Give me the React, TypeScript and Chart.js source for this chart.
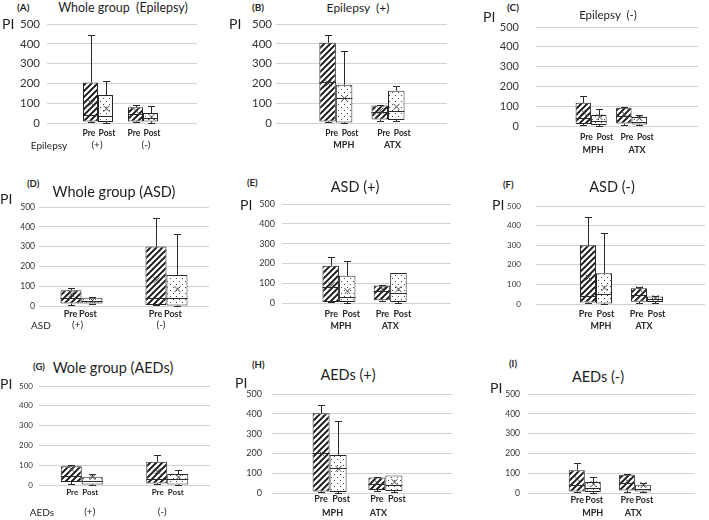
import { useEffect, useRef } from "react";
import { Chart, registerables } from "chart.js";
Chart.register(...registerables);

const FONT = "Lato, 'Liberation Sans', sans-serif";
const seriesNames = ["Pre", "Post"];
const yMin = 0;
const yMax = 500;
const yStep = 100;

// each row: [min, q1, median, q3, max, mean]
const groupsA = ["(+)", "(-)"];
const preA = [[3, 8, 40, 205, 445, 100], [3, 8, 45, 80, 90, 60]];
const postA = [[0, 5, 35, 141, 213, 72], [0, 8, 25, 50, 85, 30]];

const groupsB = ["MPH", "ATX"];
const preB = [[3, 8, 205, 405, 445, 200], [12, 18, 55, 88, 90, 62]];
const postB = [[0, 3, 125, 193, 362, 125], [12, 15, 62, 163, 188, 82]];

const groupsC = ["MPH", "ATX"];
const preC = [[3, 10, 40, 117, 150, 70], [5, 12, 50, 92, 95, 60]];
const postC = [[0, 5, 25, 55, 85, 45], [3, 8, 20, 45, 55, 40]];

const groupsD = ["(+)", "(-)"];
const preD = [[5, 12, 40, 80, 90, 60], [3, 5, 42, 300, 445, 130]];
const postD = [[8, 12, 25, 42, 45, 28], [0, 3, 42, 157, 365, 85]];

const groupsE = ["MPH", "ATX"];
const preE = [[3, 5, 80, 188, 230, 90], [10, 14, 60, 88, 90, 70]];
const postE = [[0, 5, 30, 137, 213, 60], [0, 5, 48, 152, 152, 70]];

const groupsF = ["MPH", "ATX"];
const preF = [[3, 8, 40, 300, 445, 135], [5, 12, 45, 80, 88, 75]];
const postF = [[0, 3, 50, 157, 363, 82], [5, 10, 25, 38, 42, 30]];

const groupsG = ["(+)", "(-)"];
const preG = [[5, 15, 45, 95, 100, 80], [3, 8, 30, 118, 152, 70]];
const postG = [[0, 3, 20, 42, 55, 40], [0, 3, 30, 55, 78, 40]];

const groupsH = ["MPH", "ATX"];
const preH = [[3, 8, 200, 403, 445, 200], [10, 15, 45, 78, 80, 50]];
const postH = [[0, 5, 125, 192, 363, 122], [5, 10, 40, 88, 88, 55]];

const groupsI = ["MPH", "ATX"];
const preI = [[3, 8, 40, 115, 150, 70], [5, 13, 50, 92, 97, 60]];
const postI = [[0, 5, 25, 55, 80, 45], [3, 8, 20, 42, 50, 40]];

const panelLetters = ["(A)", "(B)", "(C)", "(D)", "(E)", "(F)", "(G)", "(H)", "(I)"];
const panelTitles = [
  "Whole group  (Epilepsy)",
  "Epilepsy  (+)",
  "Epilepsy  (-)",
  "Whole group (ASD)",
  "ASD (+)",
  "ASD (-)",
  "Wole group (AEDs)",
  "AEDs (+)",
  "AEDs (-)",
];
const rowLabels = ["Epilepsy", "ASD", "AEDs"];

const groupsList = [groupsA, groupsB, groupsC, groupsD, groupsE, groupsF, groupsG, groupsH, groupsI];
const preList = [preA, preB, preC, preD, preE, preF, preG, preH, preI];
const postList = [postA, postB, postC, postD, postE, postF, postG, postH, postI];

type Lay = {
  L: number; R: number; T: number; B: number;
  f1: number; f2: number; boxW: number;
  yFont: number; yPad: number;
  subY: number; grpY: number; subSize: number; grpSize: number; grpBold: boolean;
  subDx: [number, number]; grpDx: [number, number];
  letter: [number, number, number];
  title: [number, number, number];
  pi: [number, number];
};

const layouts: Lay[] = [
  { L: 47, R: 197, T: 24, B: 123, f1: 0.34, f2: 0.64, boxW: 15, yFont: 11.5, yPad: 7, subY: 10, grpY: 22, subSize: 8.5, grpSize: 10, grpBold: false, subDx: [-1.5, 1.5], grpDx: [-1, 3], letter: [17, 7, 10], title: [123, 8, 12.5], pi: [2, 24] },
  { L: 276, R: 447, T: 24, B: 123, f1: 0.35, f2: 0.655, boxW: 16.5, yFont: 11.5, yPad: 4, subY: 10, grpY: 22, subSize: 8.5, grpSize: 9, grpBold: true, subDx: [4, 6], grpDx: [8, 4.5], letter: [252, 7, 10], title: [358, 8, 12], pi: [229, 24] },
  { L: 536, R: 698, T: 27, B: 126, f1: 0.34, f2: 0.59, boxW: 15.5, yFont: 11, yPad: 17, subY: 11, grpY: 24, subSize: 8.5, grpSize: 9, grpBold: true, subDx: [3, 6], grpDx: [2, 5.5], letter: [507, 7, 10], title: [608, 15, 11.5], pi: [483, 17] },
  { L: 39, R: 209, T: 207, B: 306, f1: 0.25, f2: 0.75, boxW: 21, yFont: 8.5, yPad: 4, subY: 8, grpY: 19, subSize: 9, grpSize: 10, grpBold: false, subDx: [-0.5, -4], grpDx: [-4, -5.5], letter: [27, 184, 9.5], title: [114, 192, 14.5], pi: [0, 199] },
  { L: 282, R: 451, T: 204, B: 303, f1: 0.337, f2: 0.64, boxW: 16.5, yFont: 9, yPad: 7, subY: 11, grpY: 23, subSize: 9, grpSize: 9, grpBold: true, subDx: [0.5, 4], grpDx: [2, 0], letter: [247, 183, 9.5], title: [355, 187, 14.5], pi: [240, 205] },
  { L: 536, R: 705, T: 206, B: 304, f1: 0.355, f2: 0.657, boxW: 16, yFont: 8, yPad: 15, subY: 10, grpY: 22, subSize: 9, grpSize: 9, grpBold: true, subDx: [-2.5, 1.5], grpDx: [5, -3], letter: [503, 185, 9.5], title: [612, 187, 14.5], pi: [492, 205] },
  { L: 39, R: 210, T: 386, B: 485, f1: 0.25, f2: 0.75, boxW: 21, yFont: 8, yPad: 6, subY: 7, grpY: 27, subSize: 8, grpSize: 10, grpBold: false, subDx: [1, -2], grpDx: [8, -5], letter: [33, 367, 9.5], title: [113, 368, 14.5], pi: [0, 384] },
  { L: 272, R: 452, T: 394, B: 493, f1: 0.32, f2: 0.63, boxW: 17, yFont: 9, yPad: 10, subY: 6, grpY: 20, subSize: 9, grpSize: 9, grpBold: true, subDx: [0, 3], grpDx: [3, -7], letter: [252, 365, 9.5], title: [348, 375, 14.5], pi: [235, 383] },
  { L: 528, R: 695, T: 394, B: 493, f1: 0.34, f2: 0.64, boxW: 16, yFont: 8.5, yPad: 8, subY: 7, grpY: 20, subSize: 9, grpSize: 9, grpBold: true, subDx: [0.5, 1.5], grpDx: [8, -1.5], letter: [509, 364, 9.5], title: [598, 377, 14.5], pi: [490, 388] },
];

const rowLabelPos: [number, number, number][] = [
  [49, 145, 10],
  [41, 325, 10],
  [42, 512, 10],
];

const YW = 50;
const PADT = 8;
const PADB = 34;
const PADR = 4;

function makeHatch(): CanvasPattern | string {
  const c = document.createElement("canvas");
  c.width = 6;
  c.height = 6;
  const g = c.getContext("2d");
  if (!g) return "#fff";
  g.fillStyle = "#ffffff";
  g.fillRect(0, 0, 6, 6);
  g.strokeStyle = "#111";
  g.lineWidth = 1.9;
  g.beginPath();
  g.moveTo(-1, 7);
  g.lineTo(7, -1);
  g.moveTo(-1, 1);
  g.lineTo(1, -1);
  g.moveTo(5, 7);
  g.lineTo(7, 5);
  g.stroke();
  return g.createPattern(c, "repeat") || "#fff";
}

function makeDots(): CanvasPattern | string {
  const c = document.createElement("canvas");
  c.width = 6;
  c.height = 6;
  const g = c.getContext("2d");
  if (!g) return "#fff";
  g.fillStyle = "#ffffff";
  g.fillRect(0, 0, 6, 6);
  g.fillStyle = "#4a4a4a";
  g.fillRect(1, 1, 1, 1);
  g.fillRect(4, 4, 1, 1);
  return g.createPattern(c, "repeat") || "#fff";
}

function Panel({ idx }: { idx: number }) {
  const ref = useRef<HTMLCanvasElement>(null);
  const lay = layouts[idx];
  const w = lay.R - lay.L + YW + PADR;
  const h = lay.B - lay.T + PADT + PADB;

  useEffect(() => {
    const canvas = ref.current;
    if (!canvas) return;
    const groups = groupsList[idx];
    const stats = [preList[idx], postList[idx]];
    const span = 1 / (lay.f2 - lay.f1);
    const xmin = 1 - lay.f1 * span;
    const xmax = xmin + span;
    const pxPerUnit = (lay.R - lay.L) / span;
    const catPct = (2 * lay.boxW) / pxPerUnit;
    const fills = [makeHatch(), makeDots()];

    const extras = {
      id: "boxExtras",
      afterDatasetsDraw(chart: any) {
        const ctx = chart.ctx as CanvasRenderingContext2D;
        const ys = chart.scales.y;
        const area = chart.chartArea;
        ctx.save();
        stats.forEach((rows, di) => {
          const meta = chart.getDatasetMeta(di);
          rows.forEach((r, i) => {
            const bar: any = meta.data[i];
            if (!bar) return;
            const cx = Math.round(bar.x) + 0.5;
            const bw = bar.width;
            const [mn, q1, md, q3, mx, mean] = r;
            const py = (v: number) => ys.getPixelForValue(v);
            ctx.strokeStyle = "#2a2a2a";
            ctx.lineWidth = 1;
            ctx.beginPath();
            if (mx > q3) {
              const yT = Math.round(py(mx)) + 0.5;
              ctx.moveTo(cx, py(q3));
              ctx.lineTo(cx, yT);
              ctx.moveTo(cx - 3.5, yT);
              ctx.lineTo(cx + 3.5, yT);
            }
            if (mn < q1) {
              const yB = Math.round(py(mn)) + 0.5;
              ctx.moveTo(cx, py(q1));
              ctx.lineTo(cx, yB);
              ctx.moveTo(cx - 3.5, yB);
              ctx.lineTo(cx + 3.5, yB);
            }
            const yM = Math.round(py(md)) + 0.5;
            ctx.moveTo(bar.x - bw / 2, yM);
            ctx.lineTo(bar.x + bw / 2, yM);
            ctx.stroke();
            const yA = py(mean);
            ctx.strokeStyle = "#444";
            ctx.beginPath();
            ctx.moveTo(cx - 3, yA - 3);
            ctx.lineTo(cx + 3, yA + 3);
            ctx.moveTo(cx + 3, yA - 3);
            ctx.lineTo(cx - 3, yA + 3);
            ctx.stroke();
            ctx.fillStyle = "#262626";
            ctx.font = `bold ${lay.subSize}px ${FONT}`;
            ctx.textAlign = "center";
            ctx.textBaseline = "middle";
            ctx.fillText(seriesNames[di], bar.x + lay.subDx[di], area.bottom + lay.subY);
          });
        });
        const xs = chart.scales.x;
        ctx.fillStyle = "#262626";
        ctx.font = `${lay.grpBold ? "bold " : ""}${lay.grpSize}px ${FONT}`;
        ctx.textAlign = "center";
        ctx.textBaseline = "middle";
        groups.forEach((g, i) => {
          ctx.fillText(g, xs.getPixelForValue(i + 1) + lay.grpDx[i], area.bottom + lay.grpY);
        });
        ctx.restore();
      },
    };

    const chart = new Chart(canvas, {
      type: "bar",
      data: {
        datasets: stats.map((rows, di) => ({
          label: seriesNames[di],
          data: rows.map((r, i) => ({ x: i + 1, y: [r[1], r[3]] })) as any,
          backgroundColor: fills[di] as any,
          borderColor: "#262626",
          borderWidth: 1,
          borderSkipped: false,
          categoryPercentage: catPct,
          barPercentage: 1,
        })),
      },
      options: {
        responsive: false,
        animation: false,
        events: [],
        layout: { padding: { left: 0, top: PADT, right: PADR, bottom: PADB } },
        plugins: { legend: { display: false }, tooltip: { enabled: false }, title: { display: false } },
        scales: {
          x: {
            type: "linear",
            min: xmin,
            max: xmax,
            bounds: "data",
            offset: false,
            display: false,
            afterBuildTicks: (s: any) => {
              s.ticks = groups.map((_, i) => ({ value: i + 1 }));
            },
          },
          y: {
            min: yMin,
            max: yMax,
            ticks: {
              stepSize: yStep,
              padding: lay.yPad,
              color: "#333",
              font: { family: FONT, size: lay.yFont },
            },
            grid: { color: "#d2d2d2", drawTicks: false, lineWidth: 1 },
            border: { display: false },
            afterFit: (s: any) => {
              s.width = YW;
              s.paddingTop = 0;
              s.paddingBottom = 0;
            },
          },
        },
      } as any,
      plugins: [extras],
    });
    return () => chart.destroy();
  }, [idx]);

  return (
    <canvas
      ref={ref}
      width={w}
      height={h}
      style={{ position: "absolute", left: lay.L - YW, top: lay.T - PADT, width: w, height: h }}
    />
  );
}

function Txt({ x, y, size, text, bold, center }: { x: number; y: number; size: number; text: string; bold?: boolean; center?: boolean }) {
  return (
    <div
      style={{
        position: "absolute",
        left: x,
        top: y,
        transform: center ? "translate(-50%, -50%)" : "translateY(-50%)",
        fontFamily: FONT,
        fontSize: size,
        fontWeight: bold ? 700 : 400,
        lineHeight: 1,
        whiteSpace: "pre",
        color: "#1f1f1f",
      }}
    >
      {text}
    </div>
  );
}

export default function App() {
  return (
    <div style={{ position: "absolute", left: 0, top: 0, width: 709, height: 520, overflow: "hidden", background: "#fff" }}>
      {layouts.map((_, i) => (
        <Panel key={"p" + i} idx={i} />
      ))}
      {layouts.map((lay, i) => (
        <Txt key={"l" + i} x={lay.letter[0]} y={lay.letter[1]} size={lay.letter[2]} text={panelLetters[i]} bold />
      ))}
      {layouts.map((lay, i) => (
        <Txt key={"t" + i} x={lay.title[0]} y={lay.title[1]} size={lay.title[2]} text={panelTitles[i]} center />
      ))}
      {layouts.map((lay, i) => (
        <Txt key={"pi" + i} x={lay.pi[0]} y={lay.pi[1]} size={14} text="PI" />
      ))}
      {rowLabels.map((t, i) => (
        <Txt key={"r" + i} x={rowLabelPos[i][0]} y={rowLabelPos[i][1]} size={rowLabelPos[i][2]} text={t} center />
      ))}
    </div>
  );
}
